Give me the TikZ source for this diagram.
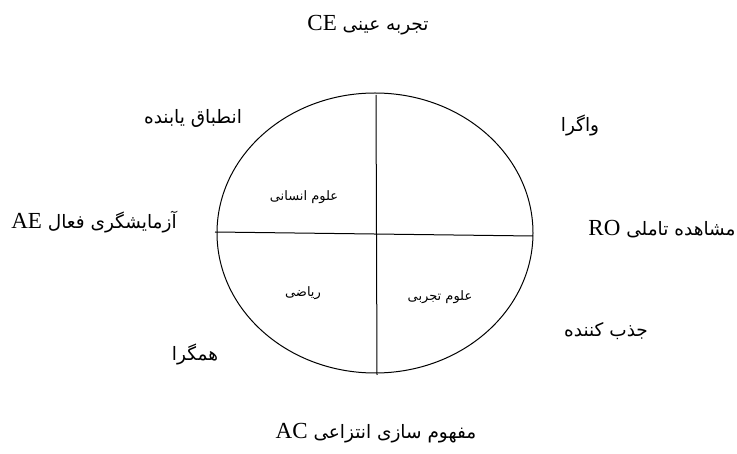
\documentclass[tikz,border=0pt]{standalone}
\usepackage{fontspec}
\setmainfont{Liberation Serif}
\newfontfamily\persianfont[Script=Arabic]{DejaVu Sans}
\TeXXeTstate=1
\begin{document}
\begin{tikzpicture}[x=1pt,y=-1pt,
  outer/.style = {font=\fontsize{18.5}{22}\selectfont, inner sep=1pt},
  inner/.style = {font=\persianfont\fontsize{13}{15}\selectfont, inner sep=1pt}]
  \useasboundingbox (0,0) rectangle (737,454);

  % the circle and its quarters
  \draw[line width=1pt] (375,233) ellipse [x radius=158, y radius=140];
  \coordinate (top) at (376,95);
  \coordinate (bottom) at (377,375);
  \coordinate (left) at (215,232);
  \coordinate (right) at (533,236);
  \draw[line width=1pt] (top) -- (bottom);
  \draw[line width=1pt] (left) -- (right);

  % quarter names
  \node [inner] (human) at (304,197) {\beginR علوم انسانی\endR};
  \node [inner] (math) at (303,293) {\beginR ریاضی\endR};
  \node [inner] (science) at (440,297) {\beginR علوم تجربی\endR};

  % learning modes
  \node [outer] (ce) at (368,25) {\persianfont\beginR تجربه عینی {\rmfamily\fontsize{23}{26}\selectfont\beginL CE\endL}\endR};
  \node [outer] (ro) at (662,229) {\persianfont\beginR مشاهده تاملی {\rmfamily\fontsize{23}{26}\selectfont\beginL RO\endL}\endR};
  \node [outer] (ac) at (376,433) {\persianfont\beginR مفهوم سازی انتزاعی {\rmfamily\fontsize{23}{26}\selectfont\beginL AC\endL}\endR};
  \node [outer] (ae) at (94,222) {\persianfont\beginR آزمایشگری فعال {\rmfamily\fontsize{23}{26}\selectfont\beginL AE\endL}\endR};

  % learning styles
  \node [outer] (acc) at (193,118) {\persianfont\beginR انطباق یابنده\endR};
  \node [outer] (div) at (580,125) {\persianfont\beginR واگرا\endR};
  \node [outer] (conv) at (195,354) {\persianfont\beginR همگرا\endR};
  \node [outer] (assim) at (606,331) {\persianfont\beginR جذب کننده\endR};
\end{tikzpicture}
\end{document}
